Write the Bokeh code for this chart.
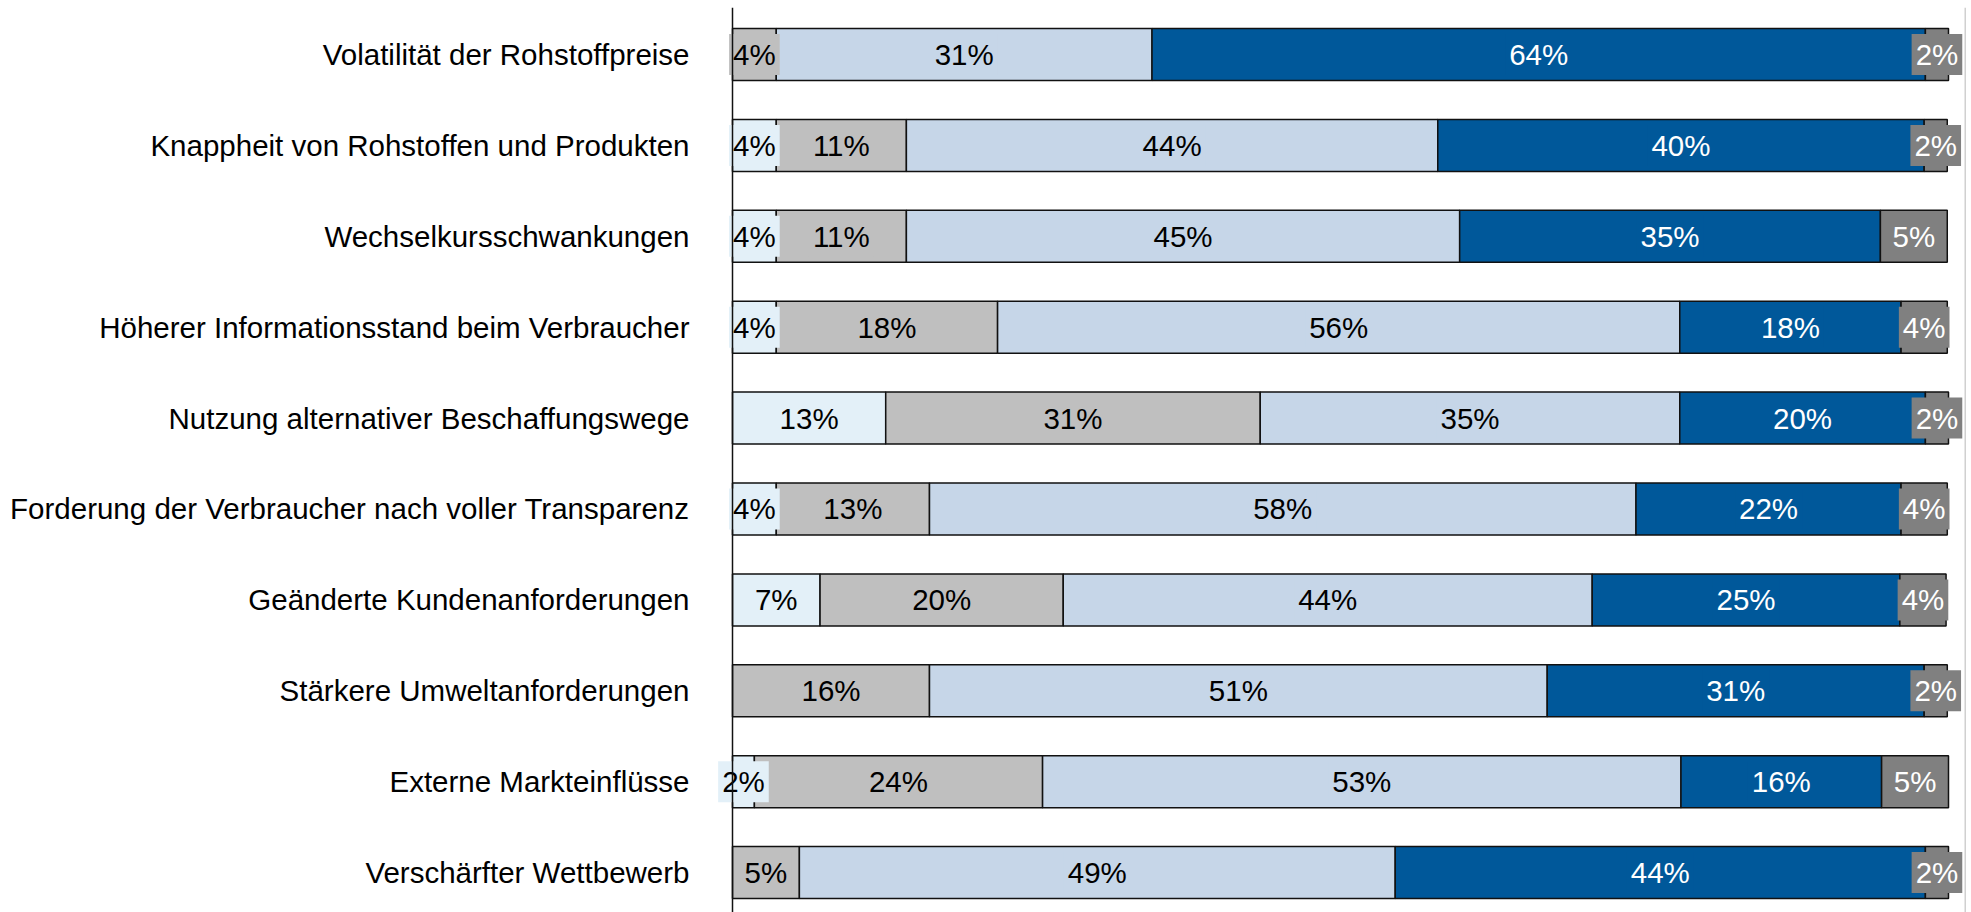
from bokeh.plotting import figure
from bokeh.models import ColumnDataSource, Range1d, FixedTicker, Span
from bokeh.core.properties import value
from bokeh.embed import file_html
from bokeh.resources import INLINE

categories = [
    "Volatilität der Rohstoffpreise",
    "Knappheit von Rohstoffen und Produkten",
    "Wechselkursschwankungen",
    "Höherer Informationsstand beim Verbraucher",
    "Nutzung alternativer Beschaffungswege",
    "Forderung der Verbraucher nach voller Transparenz",
    "Geänderte Kundenanforderungen",
    "Stärkere Umweltanforderungen",
    "Externe Markteinflüsse",
    "Verschärfter Wettbewerb",
]

s1 = [0, 3.6, 3.6, 3.6, 12.6, 3.6, 7.2, 0, 1.8, 0]
s2 = [3.6, 10.7, 10.7, 18.2, 30.8, 12.6, 20.0, 16.2, 23.7, 5.5]
s3 = [30.9, 43.7, 45.5, 56.1, 34.5, 58.1, 43.5, 50.8, 52.5, 49.0]
s4 = [63.6, 40.0, 34.6, 18.2, 20.2, 21.8, 25.3, 31.0, 16.5, 43.6]
s5 = [1.9, 1.9, 5.5, 3.8, 1.9, 3.8, 3.8, 1.9, 5.5, 1.9]

l1 = [None, 4, 4, 4, 13, 4, 7, None, 2, None]
l2 = [4, 11, 11, 18, 31, 13, 20, 16, 24, 5]
l3 = [31, 44, 45, 56, 35, 58, 44, 51, 53, 49]
l4 = [64, 40, 35, 18, 20, 22, 25, 31, 16, 44]
l5 = [2, 2, 5, 4, 2, 4, 4, 2, 5, 2]

series = [s1, s2, s3, s4, s5]
labels = [l1, l2, l3, l4, l5]
colors = ["#E3F0F8", "#BFBFBF", "#C6D6E8", "#00589A", "#808080"]
text_colors = ["#000000", "#000000", "#000000", "#FFFFFF", "#FFFFFF"]

ys, lefts, rights, fills, mids, txts, tcols = [], [], [], [], [], [], []
for i in range(len(categories)):
    acc = 0.0
    for k in range(len(series)):
        v = series[k][i]
        if v > 0:
            ys.append(i)
            lefts.append(acc)
            rights.append(acc + v)
            fills.append(colors[k])
            mids.append(acc + v / 2)
            txts.append(f"{labels[k][i]}%")
            tcols.append(text_colors[k])
        acc += v

src = ColumnDataSource(dict(y=ys, left=lefts, right=rights, fill=fills,
                            mid=mids, txt=txts, tcol=tcols))

FONT = "Liberation Sans"
PX = 12.16  # pixels per percent

p = figure(width=1966, height=912, output_backend="svg", toolbar_location=None,
           x_range=Range1d(-32 / PX, (1966 - 732) / PX),
           y_range=Range1d(9.439, -0.517),
           min_border_left=700, min_border_right=0, min_border_top=7,
           min_border_bottom=0)
p.xaxis.visible = False
p.grid.visible = False
p.outline_line_color = None

p.hbar(y="y", left="left", right="right", height=0.572, fill_color="fill",
       line_color="#111111", line_width=1.5, source=src)

p.add_layout(Span(location=0, dimension="height", line_color="#111111",
                  line_width=1.5))

p.text(x="mid", y="y", text="txt", source=src, text_align="center",
       text_baseline="middle", text_color="tcol",
       text_font=value(FONT), text_font_size="29.5px",
       background_fill_color="fill", padding=4)

p.yaxis.ticker = FixedTicker(ticks=list(range(len(categories))))
p.yaxis.major_label_overrides = {i: c for i, c in enumerate(categories)}
p.yaxis.major_tick_out = 0
p.yaxis.major_tick_in = 0
p.yaxis.minor_tick_line_color = None
p.yaxis.major_label_standoff = 11
p.yaxis.major_label_text_font = FONT
p.yaxis.major_label_text_font_size = "29.5px"
p.yaxis.major_label_text_color = "#000000"
p.yaxis.axis_line_color = None

p.add_layout(Span(location=(1965 - 732) / PX, dimension="height",
                  line_color="#D0D0D0", line_width=2))

open("out.html", "w").write(file_html(p, INLINE))
